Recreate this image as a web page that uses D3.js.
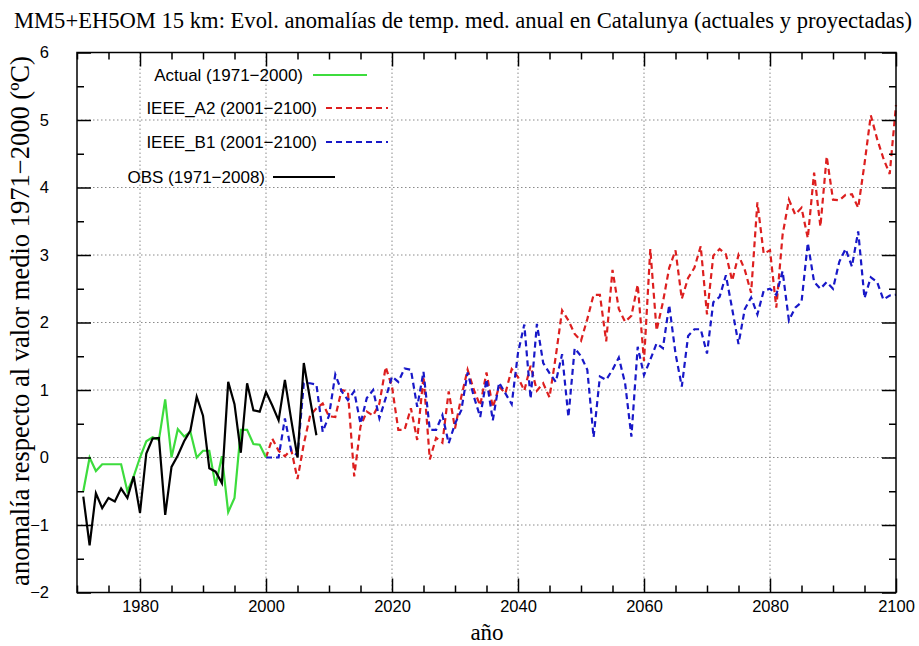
<!DOCTYPE html>
<html><head><meta charset="utf-8">
<script src="https://cdnjs.cloudflare.com/ajax/libs/d3/7.8.5/d3.min.js"></script>
<style>body{margin:0;background:#fff}</style>
</head><body>
<svg id="c" width="919" height="646" xmlns="http://www.w3.org/2000/svg"></svg>
<script>
const title = "MM5+EH5OM 15 km: Evol. anomalías de temp. med. anual en Catalunya (actuales y proyectadas)";
const yLabel = "anomalía respecto al valor medio 1971\u22122000 (ºC)";
const xLabel = "año";
const xTickLabels = [1980, 2000, 2020, 2040, 2060, 2080, 2100];
const yTickLabels = [-2, -1, 0, 1, 2, 3, 4, 5, 6];
const legendLabels = ["Actual (1971\u22122000)", "IEEE_A2 (2001\u22122100)", "IEEE_B1 (2001\u22122100)", "OBS (1971\u22122008)"];

const actualStart = 1971;
const actual = [-0.5, 0.0, -0.2, -0.1, -0.1, -0.1, -0.1, -0.5, -0.28, 0.0,
  0.24, 0.3, 0.26, 0.86, 0.0, 0.42, 0.31, 0.38, 0.0, 0.1,
  0.1, -0.42, 0.02, -0.81, -0.6, 0.41, 0.41, 0.2, 0.19, 0.0];

const obsStart = 1971;
const obs = [-0.58, -1.3, -0.53, -0.75, -0.6, -0.65, -0.46, -0.6, -0.28, -0.82,
  0.06, 0.28, 0.29, -0.85, -0.14, 0.03, 0.24, 0.4, 0.9, 0.62,
  -0.16, -0.21, -0.38, 1.12, 0.79, 0.07, 1.1, 0.7, 0.68, 0.97,
  0.77, 0.55, 1.15, 0.56, 0.0, 1.4, 0.86, 0.33];

const scenStart = 2000;
const a2 = [0, 0.28, 0.1, 0.02, 0.12, -0.32, 0.2, 0.62, 0.73, 0.8,
  0.61, 0.6, 1.0, 0.98, -0.28, 0.46, 0.68, 0.62, 0.8, 1.34,
  1.05, 0.41, 0.41, 0.73, 0.26, 1.2, -0.03, 0.29, 0.22, 0.98,
  0.43, 0.9, 1.3, 1.0, 0.77, 1.26, 0.74, 1.05, 0.95, 1.31,
  1.19, 0.99, 1.36, 0.99, 1.1, 0.89, 1.5, 2.18, 2.03, 1.83,
  1.73, 2.05, 2.41, 2.41, 1.72, 2.78, 2.2, 2.01, 2.1, 2.56,
  1.43, 3.09, 1.88, 2.3, 2.81, 3.07, 2.35, 2.66, 2.81, 3.13,
  2.12, 2.99, 3.09, 3.01, 2.62, 3.0, 2.78, 2.44, 3.78, 3.02,
  3.07, 2.22, 3.3, 3.82, 3.6, 3.7, 3.25, 4.22, 3.42, 4.46,
  3.82, 3.81, 3.89, 3.9, 3.7, 4.35, 5.07, 4.72, 4.43, 4.2,
  5.22];
const b1 = [0, 0, 0, 0.58, 0.1, 0.03, 1.1, 1.1, 1.08, 0.38,
  0.62, 1.23, 0.98, 0.85, 0.98, 0.5, 0.88, 1.0, 0.58, 0.88,
  1.2, 1.12, 1.32, 1.3, 0.75, 1.27, 0.41, 0.41, 0.63, 0.21,
  0.5, 0.7, 1.26, 0.9, 0.6, 1.16, 0.55, 1.11, 0.95, 0.79,
  1.55, 1.97, 0.87, 1.98, 1.4, 1.25, 1.12, 1.53, 0.6, 1.62,
  1.5, 1.3, 0.3, 1.2, 1.15, 1.3, 1.48, 1.1, 0.31, 1.64,
  1.22, 1.45, 1.69, 1.62, 2.26, 1.54, 1.05, 1.8, 1.9, 1.9,
  1.54, 2.3, 2.38, 2.7, 2.2, 1.68, 2.2, 2.37, 2.12, 2.47,
  2.5, 2.41, 2.76, 2.03, 2.22, 2.3, 3.18, 2.6, 2.5, 2.6,
  2.5, 2.9, 3.09, 2.83, 3.35, 2.36, 2.67, 2.6, 2.34, 2.4,
  2.41];

const toPts = (start, vals) => vals.map((v, i) => ({year: start + i, v}));

const svg = d3.select("#c");
const L = 77, R = 896, T = 52.5, B = 592.5;
const x = d3.scaleLinear().domain([1970, 2100]).range([L, R]);
const y = d3.scaleLinear().domain([-2, 6]).range([B, T]);

const xMinor = d3.range(1970, 2101, 5).filter(v => !xTickLabels.includes(v));
const yMinor = d3.range(-2, 6.01, 0.5).filter(v => !Number.isInteger(v));

// grid
const grid = svg.append("g").attr("stroke", "#8a8a8a").attr("stroke-width", 1).attr("stroke-dasharray", "1.5,2.5");
xTickLabels.filter(v => v > 1970 && v < 2100).forEach(v => {
  grid.append("line").attr("x1", x(v)).attr("x2", x(v)).attr("y1", T).attr("y2", B);
});
yTickLabels.filter(v => v > -2 && v < 6).forEach(v => {
  grid.append("line").attr("x1", L).attr("x2", R).attr("y1", y(v)).attr("y2", y(v));
});

// series
const line = d3.line().x(d => x(d.year)).y(d => y(d.v));
const series = [
  {pts: toPts(scenStart, a2), color: "#dd1f1f", dash: "6,4"},
  {pts: toPts(scenStart, b1), color: "#1818c8", dash: "6,4"},
  {pts: toPts(actualStart, actual), color: "#3ddc3d", dash: null},
  {pts: toPts(obsStart, obs), color: "#000000", dash: null}
];
series.forEach(s => {
  svg.append("path").datum(s.pts).attr("d", line).attr("fill", "none")
    .attr("stroke", s.color).attr("stroke-width", 2.2)
    .attr("stroke-dasharray", s.dash).attr("stroke-linejoin", "miter");
});

// axes (ticks inward, mirrored)
const fmt = d => d3.format("d")(d);
const font = "'Liberation Sans', Arial, Helvetica, sans-serif";
function styleAxis(g) {
  g.select(".domain").remove();
  g.selectAll(".tick line").attr("stroke", "#000").attr("stroke-width", 1.5);
  g.selectAll("text").attr("font-family", font).attr("font-size", 16.5).attr("fill", "#000");
}
svg.append("g").attr("transform", `translate(0,${B})`)
  .call(d3.axisBottom(x).tickValues(xTickLabels).tickSize(-14).tickPadding(8).tickFormat(fmt)).call(styleAxis);
svg.append("g").attr("transform", `translate(0,${B})`)
  .call(d3.axisBottom(x).tickValues(xMinor).tickSize(-7).tickFormat("")).call(styleAxis);
svg.append("g").attr("transform", `translate(0,${T})`)
  .call(d3.axisTop(x).tickValues(xTickLabels).tickSize(-14).tickFormat("")).call(styleAxis);
svg.append("g").attr("transform", `translate(0,${T})`)
  .call(d3.axisTop(x).tickValues(xMinor).tickSize(-7).tickFormat("")).call(styleAxis);
svg.append("g").attr("transform", `translate(${L},0)`)
  .call(d3.axisLeft(y).tickValues(yTickLabels).tickSize(-14).tickPadding(28).tickFormat(d3.format("d"))).call(styleAxis);
svg.append("g").attr("transform", `translate(${L},0)`)
  .call(d3.axisLeft(y).tickValues(yMinor).tickSize(-7).tickFormat("")).call(styleAxis);
svg.append("g").attr("transform", `translate(${R},0)`)
  .call(d3.axisRight(y).tickValues(yTickLabels).tickSize(-14).tickFormat("")).call(styleAxis);
svg.append("g").attr("transform", `translate(${R},0)`)
  .call(d3.axisRight(y).tickValues(yMinor).tickSize(-7).tickFormat("")).call(styleAxis);

// frame
svg.append("rect").attr("x", L).attr("y", T).attr("width", R - L).attr("height", B - T)
  .attr("fill", "none").attr("stroke", "#000").attr("stroke-width", 1.5);

// legend
const legendPos = [
  {tx: 303, y: 75, x1: 313, x2: 367},
  {tx: 317, y: 108, x1: 326, x2: 388},
  {tx: 317, y: 142, x1: 326, x2: 388},
  {tx: 265, y: 177, x1: 273, x2: 335}
];
const legendStyle = [series[2], series[0], series[1], series[3]];
legendLabels.forEach((lab, i) => {
  const p = legendPos[i], s = legendStyle[i];
  svg.append("text").attr("x", p.tx).attr("y", p.y).attr("dy", "0.35em")
    .attr("text-anchor", "end").attr("font-family", font).attr("font-size", 17).text(lab);
  svg.append("line").attr("x1", p.x1).attr("x2", p.x2).attr("y1", p.y).attr("y2", p.y)
    .attr("stroke", s.color).attr("stroke-width", 2.2).attr("stroke-dasharray", s.dash);
});

// titles
const serif = "'Liberation Serif', 'Times New Roman', serif";
function fitText(sel, target) {
  const w = sel.node().getComputedTextLength();
  const fs = parseFloat(sel.attr("font-size"));
  sel.attr("font-size", (fs * target / w).toFixed(2));
}
const tt = svg.append("text").attr("x", 463).attr("y", 28).attr("text-anchor", "middle")
  .attr("font-family", serif).attr("font-size", 22).text(title);
fitText(tt, 898);
const yl = svg.append("text").attr("transform", "translate(29,321) rotate(-90)").attr("text-anchor", "middle")
  .attr("font-family", serif).attr("font-size", 22).text(yLabel);
fitText(yl, 530);
svg.append("text").attr("x", 487).attr("y", 640).attr("text-anchor", "middle")
  .attr("font-family", serif).attr("font-size", 23).text(xLabel);
</script>
</body></html>
